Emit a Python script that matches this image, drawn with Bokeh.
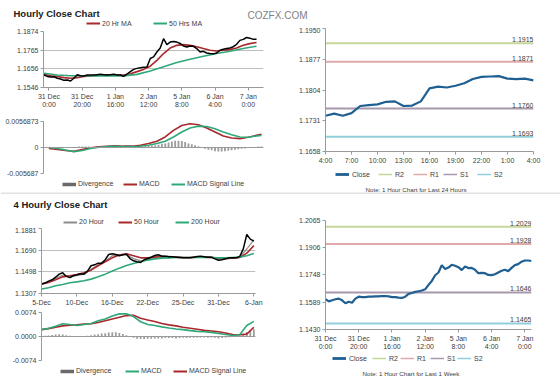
from bokeh.plotting import figure
from bokeh.layouts import column, row
from bokeh.models import (Range1d, FixedTicker, CustomJSTickFormatter, Legend, LegendItem,
                          Label, Span)
from bokeh.embed import file_html
from bokeh.resources import INLINE
from bokeh.core.properties import value

NAN = float("nan")

# ---------------- data: Hourly Close Chart (top-left) ----------------
tl_x = list(range(0, 129, 2))
tl_close = [1.1619, 1.1611, 1.1607, 1.1609, 1.1600, 1.1596, 1.1588, 1.1590, 1.1584, 1.1600,
            1.1621, 1.1615, 1.1613, 1.1619, 1.1619, 1.1619, 1.1621, 1.1623, 1.1621, 1.1619,
            1.1621, 1.1623, 1.1619, 1.1619, 1.1611, 1.1625, 1.1639, 1.1652, 1.1658, 1.1662,
            1.1664, 1.1666, 1.1716, 1.1725, 1.1754, 1.1777, 1.1832, 1.1797, 1.1812, 1.1816,
            1.1812, 1.1804, 1.1789, 1.1783, 1.1789, 1.1787, 1.1774, 1.1754, 1.1758, 1.1748,
            1.1745, 1.1743, 1.1748, 1.1764, 1.1770, 1.1774, 1.1777, 1.1785, 1.1799, 1.1822,
            1.1828, 1.1839, 1.1835, 1.1828, 1.1828]
tl_ma20_x = list(range(0, 129, 4))
tl_ma20 = [1.1623, 1.1615, 1.1610, 1.1604, 1.1600, 1.1604, 1.1610, 1.1614, 1.1617, 1.1619,
           1.1619, 1.1619, 1.1619, 1.1627, 1.1639, 1.1652, 1.1671, 1.1705, 1.1745, 1.1777,
           1.1793, 1.1797, 1.1793, 1.1785, 1.1774, 1.1764, 1.1760, 1.1764, 1.1768, 1.1777,
           1.1793, 1.1803, 1.1810]
tl_ma50_x = list(range(0, 129, 8))
tl_ma50 = [1.1629, 1.1619, 1.1615, 1.1615, 1.1614, 1.1614, 1.1614, 1.1623, 1.1643, 1.1668,
           1.1693, 1.1712, 1.1729, 1.1745, 1.1758, 1.1774, 1.1788]
tl_yticks = [1.1546, 1.1656, 1.1765, 1.1874]
tl_ylabels = ["1.1546", "1.1656", "1.1765", "1.1874"]
h1_xticks = [3, 23, 43, 63, 83, 103, 123]
h1_xlabels = ["31 Dec\n0:00", "31 Dec\n20:00", "1 Jan\n16:00", "2 Jan\n12:00",
              "5 Jan\n8:00", "6 Jan\n4:00", "7 Jan\n0:00"]

tlm_x = list(range(0, 126, 5)) + [128]
tlm_macd = [-0.00022, -0.00043, -0.00065, -0.00085, -0.00043, -0.00007, 0.00014, 0.00029, 0.00036,
            0.00029, 0.00029, 0.00050, 0.00086, 0.00137, 0.00230, 0.00374, 0.00482, 0.00518,
            0.00497, 0.00425, 0.00338, 0.00252, 0.00209, 0.00194, 0.00223, 0.00266, 0.00288]
tlm_signal = [0.0, -0.00022, -0.00055, -0.00090, -0.00065, -0.00022, 0.00007, 0.00022, 0.00029,
              0.00022, 0.00022, 0.00029, 0.00050, 0.00086, 0.00137, 0.00230, 0.00338, 0.00425,
              0.00468, 0.00461, 0.00410, 0.00338, 0.00281, 0.00230, 0.00223, 0.00252, 0.00266]
tlm_div = [-0.0002, -0.0002, -0.0002, -0.0002, -0.0002, -0.0001, 0.0, 0.0001, 0.0001, 0.0002,
           0.0002, 0.0002, 0.0002, 0.0001, 0.0001, 0.0001, 0.0001, 0.0001, 0.0001, 0.0001,
           0.0001, 0.0001, 0.0001, 0.0001, 0.0001, 0.0001, 0.0002, 0.0002, 0.0002, 0.0003,
           0.0004, 0.0004, 0.0005, 0.0006, 0.0008, 0.0009, 0.0011, 0.0013, 0.0015, 0.0015,
           0.0014, 0.0012, 0.0009, 0.0007, 0.0005, 0.0003, 0.0, -0.0003, -0.0005, -0.0006,
           -0.0008, -0.0009, -0.0009, -0.0008, -0.0007, -0.0006, -0.0005, -0.0004, -0.0003, -0.0002,
           -0.0001, 0.0, 0.0001, 0.0002, 0.0002]
tlm_yticks = [-0.005687, 0.0, 0.0056873]
tlm_ylabels = ["-0.005687", "0", "0.0056873"]

# ---------------- data: last 24 hours (top-right) ----------------
tr_x = list(range(25))
tr_close = [1.1743, 1.1748, 1.1743, 1.1749, 1.1766, 1.1768, 1.1770, 1.1776, 1.1777, 1.1766,
            1.1767, 1.1777, 1.1808, 1.1812, 1.1810, 1.1814, 1.1820, 1.1830, 1.1835, 1.1836,
            1.1837, 1.1831, 1.1830, 1.1831, 1.1827]
tr_xticks = [0, 3, 6, 9, 12, 15, 18, 21, 24]
tr_xlabels = ["4:00", "7:00", "10:00", "13:00", "16:00", "19:00", "22:00", "1:00", "4:00"]
tr_yticks = [1.1658, 1.1731, 1.1804, 1.1877, 1.1950]
tr_ylabels = ["1.1658", "1.1731", "1.1804", "1.1877", "1.1950"]
level_names = ["R2", "R1", "S1", "S2"]
tr_levels = [1.1915, 1.1871, 1.1760, 1.1693]

# ---------------- data: 4 Hourly Close Chart (bottom-left) ----------------
bl_x = list(range(0, 181, 3))
bl_close = [1.1390, 1.1399, 1.1416, 1.1428, 1.1451, 1.1478, 1.1490, 1.1458, 1.1447, 1.1464,
            1.1472, 1.1481, 1.1478, 1.1505, 1.1552, 1.1560, 1.1575, 1.1575, 1.1605, 1.1652,
            1.1658, 1.1652, 1.1640, 1.1649, 1.1654, 1.1616, 1.1596, 1.1587, 1.1581, 1.1605,
            1.1616, 1.1627, 1.1643, 1.1649, 1.1637, 1.1637, 1.1631, 1.1631, 1.1628, 1.1625,
            1.1622, 1.1622, 1.1622, 1.1628, 1.1634, 1.1637, 1.1631, 1.1628, 1.1628, 1.1613,
            1.1601, 1.1605, 1.1613, 1.1622, 1.1622, 1.1622, 1.1634, 1.1699, 1.1828, 1.1787,
            1.1769]
bl_ma_x = list(range(0, 181, 6))
bl_ma20 = [1.1395, 1.1410, 1.1440, 1.1470, 1.1460, 1.1465, 1.1478, 1.1520, 1.1560, 1.1590,
           1.1640, 1.1650, 1.1650, 1.1615, 1.1595, 1.1605, 1.1630, 1.1640, 1.1635, 1.1630,
           1.1625, 1.1623, 1.1630, 1.1633, 1.1630, 1.1610, 1.1612, 1.1620, 1.1628, 1.1700,
           1.1780]
bl_ma50 = [1.1390, 1.1405, 1.1428, 1.1454, 1.1464, 1.1475, 1.1490, 1.1513, 1.1552, 1.1587,
           1.1622, 1.1646, 1.1658, 1.1640, 1.1622, 1.1622, 1.1628, 1.1631, 1.1628, 1.1628,
           1.1625, 1.1625, 1.1628, 1.1628, 1.1625, 1.1619, 1.1616, 1.1619, 1.1625, 1.1663,
           1.1730]
bl_ma200 = [1.1346, 1.1358, 1.1375, 1.1387, 1.1402, 1.1410, 1.1420, 1.1434, 1.1455, 1.1478,
            1.1505, 1.1531, 1.1555, 1.1572, 1.1587, 1.1602, 1.1613, 1.1619, 1.1622, 1.1625,
            1.1625, 1.1625, 1.1625, 1.1625, 1.1625, 1.1622, 1.1622, 1.1625, 1.1628, 1.1640,
            1.1661]
bl_yticks = [1.1307, 1.1498, 1.1690, 1.1881]
bl_ylabels = ["1.1307", "1.1498", "1.1690", "1.1881"]
bl_xticks = [0, 30, 60, 90, 120, 150, 180]
bl_xlabels = ["5-Dec", "10-Dec", "16-Dec", "22-Dec", "25-Dec", "31-Dec", "6-Jan"]

blm_macd = [0.00211, 0.00254, 0.00317, 0.00391, 0.00370, 0.00338, 0.00370, 0.00402, 0.00486,
            0.00539, 0.00634, 0.00698, 0.00698, 0.00613, 0.00455, 0.00370, 0.00338, 0.00296,
            0.00264, 0.00233, 0.00211, 0.00180, 0.00159, 0.00148, 0.00127, 0.00095, 0.00063,
            0.00032, 0.00053, 0.00338, 0.00465]
blm_signal = [0.00211, 0.00243, 0.00285, 0.00328, 0.00349, 0.00359, 0.00381, 0.00391, 0.00433,
              0.00486, 0.00539, 0.00592, 0.00645, 0.00655, 0.00560, 0.00507, 0.00465, 0.00402,
              0.00359, 0.00328, 0.00285, 0.00254, 0.00222, 0.00190, 0.00169, 0.00148, 0.00106,
              0.00063, 0.00053, 0.00074, 0.00285]
blm_div = [0.0, 0.0002, 0.0003, 0.0005, 0.0006, 0.0007, 0.0006, 0.0004, 0.0002, 0.0,
           -0.0001, 0.0, 0.0001, 0.0002, 0.0004, 0.0006, 0.0007, 0.0009, 0.0010, 0.0012,
           0.0013, 0.0013, 0.0011, 0.0008, 0.0004, 0.0, -0.0004, -0.0007, -0.0008, -0.0008,
           -0.0007, -0.0007, -0.0006, -0.0006, -0.0006, -0.0005, -0.0005, -0.0005, -0.0006, -0.0005,
           -0.0004, -0.0005, -0.0004, -0.0004, -0.0004, -0.0003, -0.0003, -0.0004, -0.0003, -0.0004,
           -0.0006, -0.0005, -0.0003, -0.0002, -0.0001, 0.0, 0.0003, 0.0008, 0.0014, 0.0019,
           0.0022]
blm_yticks = [-0.0074, 0.0, 0.0074]
blm_ylabels = ["-0.0074", "0.0000", "0.0074"]

# ---------------- data: last 1 week (bottom-right) ----------------
br_x = list(range(0, 125, 2))
br_close = [1.1606, 1.1594, 1.1600, 1.1606, 1.1610, 1.1600, 1.1583, 1.1592, 1.1586, 1.1610,
            1.1621, 1.1619, 1.1619, 1.1621, 1.1621, 1.1623, 1.1623, 1.1625, 1.1625, 1.1623,
            1.1619, 1.1619, 1.1616, 1.1614, 1.1621, 1.1637, 1.1643, 1.1649, 1.1653, 1.1657,
            1.1664, 1.1690, 1.1713, 1.1746, 1.1762, 1.1805, 1.1782, 1.1791, 1.1807, 1.1801,
            1.1793, 1.1776, 1.1797, 1.1788, 1.1789, 1.1778, 1.1758, 1.1760, 1.1758, 1.1748,
            1.1747, 1.1752, 1.1762, 1.1772, 1.1778, 1.1770, 1.1789, 1.1805, 1.1811, 1.1825,
            1.1832, 1.1832, 1.1829]
br_xticks = [0, 20, 40, 60, 80, 100, 120]
br_yticks = [1.1430, 1.1589, 1.1748, 1.1906, 1.2065]
br_ylabels = ["1.1430", "1.1589", "1.1748", "1.1906", "1.2065"]
br_levels = [1.2029, 1.1928, 1.1646, 1.1465]

# ---------------- styling ----------------
FONT = "Liberation Sans"
TXT = "#404040"
AXC = "#9a9a9a"
GRIDC = "#bdbdbd"
RED = "#a8282c"
GREEN = "#2fa879"
GREY = "#8c8c8c"
BLUE = "#1f5f91"
BARC = "#9c9c9c"
DIVG = "#6a6a6a"
DIVC = "#c4c4c4"
LEVEL_COLORS = ["#c4d79b", "#e0aaaa", "#a898ac", "#92cddc"]


def fmt(vals, labels):
    return CustomJSTickFormatter(args=dict(vals=list(vals), labels=list(labels)), code="""
        let b = 0, d = Infinity;
        for (let i = 0; i < vals.length; i++) {
            const e = Math.abs(vals[i] - tick);
            if (e < d) { d = e; b = i; }
        }
        return labels[b];
    """)


def chart(w, h, xr, yr, bl, br, bt, bb, yticks, ylabels, xticks=None, xlabels=None,
          grid=True, xaxis=True):
    p = figure(width=w, height=h, x_range=Range1d(*xr), y_range=Range1d(*yr),
               output_backend="svg", toolbar_location=None,
               x_axis_location="below" if xaxis else None,
               min_border_left=bl, min_border_right=br, min_border_top=bt, min_border_bottom=bb)
    p.outline_line_color = None
    p.xgrid.visible = False
    if grid:
        p.ygrid.ticker = FixedTicker(ticks=yticks)
        p.ygrid.grid_line_color = GRIDC
        p.ygrid.grid_line_width = 1
    else:
        p.ygrid.visible = False
    p.yaxis.ticker = FixedTicker(ticks=yticks)
    p.yaxis.formatter = fmt(yticks, ylabels)
    if xaxis:
        p.xaxis.ticker = FixedTicker(ticks=xticks)
        p.xaxis.formatter = fmt(xticks, xlabels)
    for ax in p.axis:
        ax.axis_line_color = AXC
        ax.major_tick_line_color = AXC
        ax.major_tick_out = 3
        ax.major_tick_in = 0
        ax.minor_tick_line_color = None
        ax.major_label_text_font = FONT
        ax.major_label_text_font_size = "7px"
        ax.major_label_text_color = TXT
        ax.major_label_standoff = 2
    return p


def blank(w, h, bl=0, br=0):
    """A strip without axes for titles, legends and notes; its frame matches its column."""
    p = figure(width=w, height=h, x_range=Range1d(0, 1), y_range=Range1d(0, h),
               output_backend="svg", toolbar_location=None,
               x_axis_location=None, y_axis_location=None,
               min_border_left=bl, min_border_right=br, min_border_top=0, min_border_bottom=0)
    p.outline_line_color = None
    p.grid.visible = False
    return p


def text(p, s, x, y, size="7px", bold=False, color=TXT, align="left"):
    p.add_layout(Label(x=x, y=y, x_units="screen", y_units="screen", text=s,
                       text_font=FONT, text_font_size=size,
                       text_font_style="bold" if bold else "normal",
                       text_color=color, text_align=align, text_baseline="alphabetic"))


def key(p, label, color, width, x, y, standoff=2):
    """One legend entry; its swatch is a proxy styled like the plotted series."""
    r = p.line(x=[NAN], y=[NAN], line_color=color, line_width=width)
    p.add_layout(Legend(items=[LegendItem(label=label, renderers=[r])], location=(x, y),
                        orientation="horizontal", border_line_color=None,
                        background_fill_alpha=0.0, label_text_font=FONT,
                        label_text_font_size="7px", label_text_color=TXT,
                        glyph_width=14, glyph_height=8, label_height=8,
                        label_standoff=standoff, padding=0, margin=0))


def divider(p, loc):
    p.add_layout(Span(location=loc, dimension="width", line_color=DIVC, line_width=1))


def level_chart(h, xs, close, yr, yticks, ylabels, xticks, xlabels, levels, br, bt, bb):
    p = chart(280, h, (xs[0], xs[-1]), yr, 45, br, bt, bb,
              yticks, ylabels, xticks, xlabels, grid=False)
    for lv, c in zip(levels, LEVEL_COLORS):
        p.line([xs[0], xs[-1]], [lv, lv], line_color=c, line_width=2)
    p.text(x=[xs[-1]] * len(levels), y=levels, text=["%.4f" % v for v in levels],
           text_align="right", text_baseline="bottom", y_offset=-1,
           text_font=value(FONT), text_font_size="7px", text_color=TXT)
    p.line(xs, close, line_color=BLUE, line_width=2.2)
    return p


def level_keys(p, xs, y):
    key(p, "Close", BLUE, 2.8, xs[0], y, 3)
    for n, c, x in zip(level_names, LEVEL_COLORS, xs[1:]):
        key(p, n, c, 1.5, x, y, 3)


# ---------------- top header (title, site name, MA legend) ----------------
head1 = blank(560, 27)
text(head1, "Hourly Close Chart", 13, 14.4, size="9.5px", bold=True, color="#202020")
text(head1, "COZFX.COM", 277, 12, size="10px", color="#7f7f7f", align="center")
key(head1, "20 Hr MA", RED, 2, 86, 0)
key(head1, "50 Hrs MA", GREEN, 2, 153, 0)

# ---------------- top-left (frames 43..263) ----------------
tl_price = chart(280, 83, (-0.3, 132.2), (1.1546, 1.1874), 43, 17, 4, 22,
                 tl_yticks, tl_ylabels, h1_xticks, h1_xlabels)
tl_price.line(tl_ma20_x, tl_ma20, line_color=RED, line_width=1.6)
tl_price.line(tl_ma50_x, tl_ma50, line_color=GREEN, line_width=1.6)
tl_price.line(tl_x, tl_close, line_color="black", line_width=1.5)

tl_macd = chart(280, 66, (-3.3, 129.2), (-0.005687, 0.0056873), 43, 17, 11, 3,
                tlm_yticks, tlm_ylabels, xaxis=False)
tl_macd.vbar(x=tl_x, top=tlm_div, bottom=0, width=1.1, fill_color=BARC, line_color=None)
tl_macd.add_layout(Span(location=0, dimension="width", line_color=AXC, line_width=1))
tl_macd.line(tlm_x, tlm_macd, line_color=RED, line_width=1.6)
tl_macd.line(tlm_x, tlm_signal, line_color=GREEN, line_width=1.6)

tl_leg = blank(280, 16, 43, 17)
key(tl_leg, "Divergence", DIVG, 3.5, 19, 4.5)
key(tl_leg, "MACD", RED, 2, 80, 4.5)
key(tl_leg, "MACD Signal Line", GREEN, 2, 128, 4.5)

# ---------------- top-right (frames 325..533) ----------------
tr = level_chart(139, tr_x, tr_close, (1.1658, 1.1950), tr_yticks, tr_ylabels,
                 tr_xticks, tr_xlabels, tr_levels, 27, 1, 15)
tr_leg = blank(280, 26, 45, 27)
level_keys(tr_leg, [10, 53, 88, 118, 152], 14)
text(tr_leg, "Note: 1 Hour Chart for Last 24 Hours", 40, 3, size="6.2px")

# ---------------- bottom header ----------------
head2 = blank(560, 18)
divider(head2, 17.5)
text(head2, "4 Hourly Close Chart", 13, 6.5, size="9.5px", bold=True, color="#202020")

# ---------------- bottom-left (frames 41..255) ----------------
bl_head = blank(280, 17, 41, 25)
key(bl_head, "20 Hour", GREY, 2, 22, 1.5)
key(bl_head, "50 Hour", RED, 2, 77, 1.5)
key(bl_head, "200 Hour", GREEN, 2, 134, 1.5)

BL_XR = (0, 181.4)
bl_price = chart(280, 81, BL_XR, (1.1307, 1.1881), 41, 25, 1, 14,
                 bl_yticks, bl_ylabels, bl_xticks, bl_xlabels)
bl_price.line(bl_ma_x, bl_ma20, line_color=GREY, line_width=1.2)
bl_price.line(bl_ma_x, bl_ma50, line_color=RED, line_width=1.6)
bl_price.line(bl_ma_x, bl_ma200, line_color=GREEN, line_width=1.6)
bl_price.line(bl_x, bl_close, line_color="black", line_width=1.5)

bl_macd = chart(280, 55, BL_XR, (-0.0074, 0.0074), 41, 25, 4, 3,
                blm_yticks, blm_ylabels, xaxis=False)
bl_macd.vbar(x=bl_x, top=blm_div, bottom=0, width=1.5, fill_color=BARC, line_color=None)
bl_macd.add_layout(Span(location=0, dimension="width", line_color=AXC, line_width=1))
bl_macd.line(bl_ma_x, blm_signal, line_color=RED, line_width=1.6)
bl_macd.line(bl_ma_x, blm_macd, line_color=GREEN, line_width=1.6)

bl_leg = blank(280, 19, 41, 25)
key(bl_leg, "Divergence", DIVG, 3.5, 19, 7.5)
key(bl_leg, "MACD", GREEN, 2, 84, 7.5)
key(bl_leg, "MACD Signal Line", RED, 2, 132, 7.5)

# ---------------- bottom-right (frames 325..531) ----------------
br = level_chart(142, br_x, br_close, (1.1430, 1.2065), br_yticks, br_ylabels,
                 br_xticks, h1_xlabels, br_levels, 29, 10, 23)
br_leg = blank(280, 30, 45, 29)
level_keys(br_leg, [7, 47, 75, 105, 132], 19.8)
text(br_leg, "Note: 1 Hour Chart for  Last 1 Week", 37, 9.5, size="6.2px")

footer = blank(560, 2)
divider(footer, 1.5)

layout = column(
    head1,
    row(column(tl_price, tl_macd, tl_leg, spacing=0),
        column(tr, tr_leg, spacing=0), spacing=0),
    head2,
    row(column(bl_head, bl_price, bl_macd, bl_leg, spacing=0),
        column(br, br_leg, spacing=0), spacing=0),
    footer,
    spacing=0,
)

open("out.html", "w").write(file_html(layout, INLINE))
